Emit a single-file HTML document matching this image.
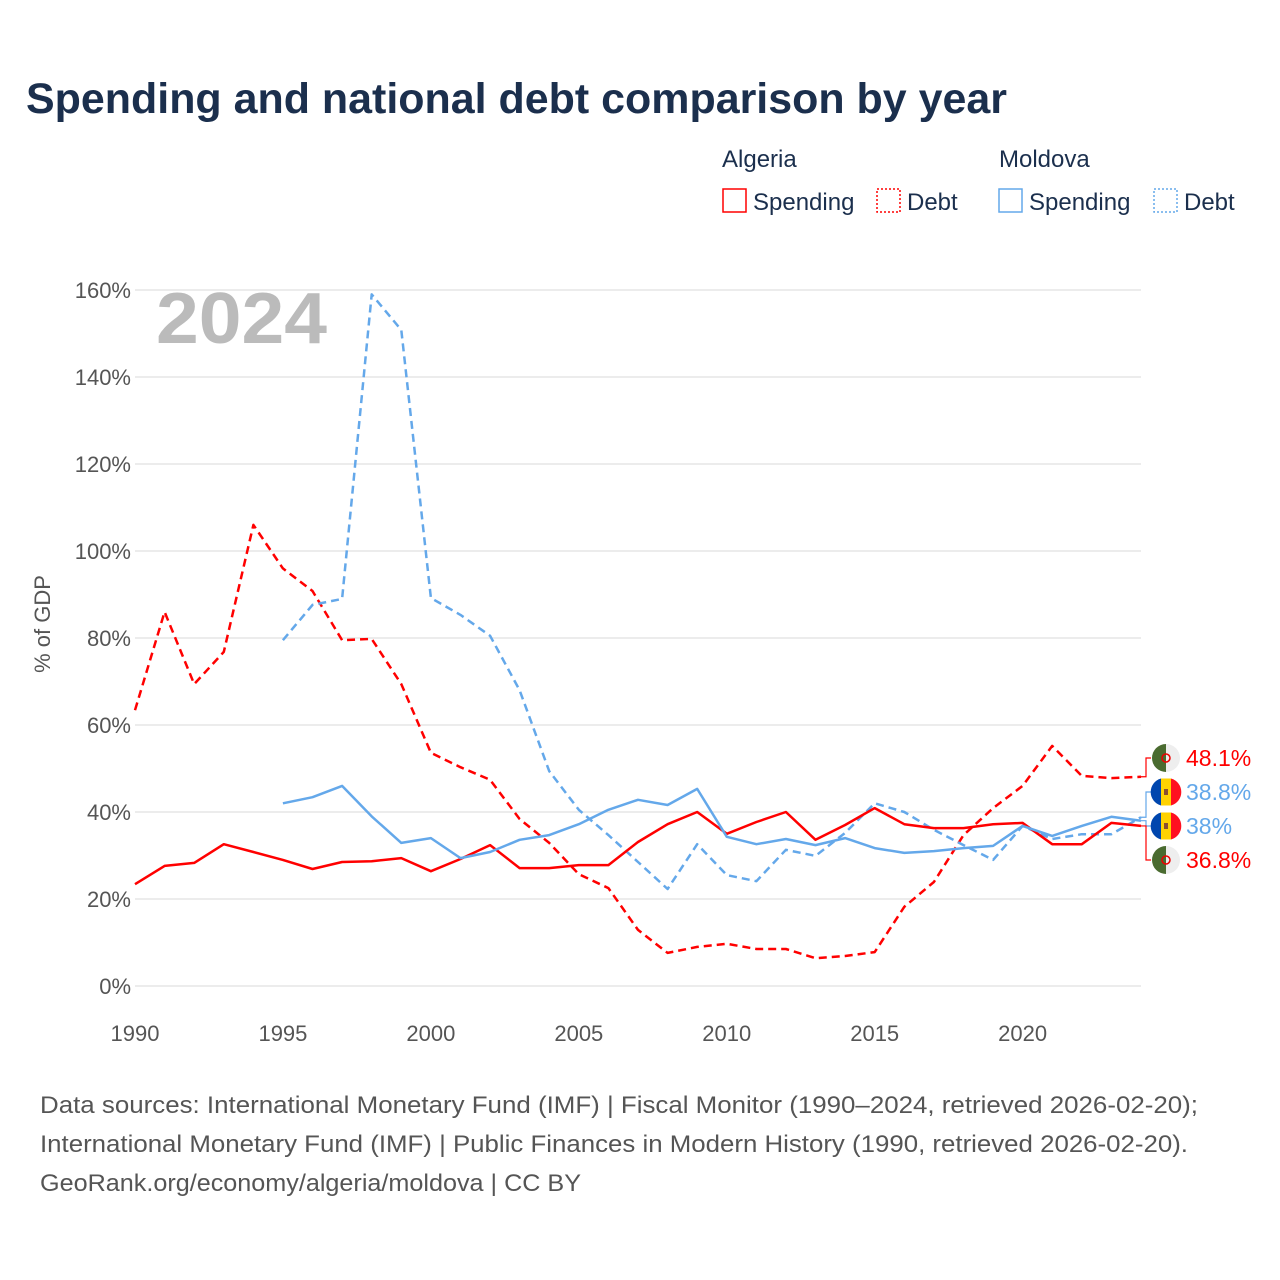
<!DOCTYPE html>
<html><head><meta charset="utf-8"><style>
html,body{margin:0;padding:0;background:#fff;}
svg{display:block;font-family:"Liberation Sans",sans-serif;}
</style></head><body>
<svg id="chart" width="1280" height="1280" viewBox="0 0 1280 1280">
<text x="26" y="113" font-size="43" font-weight="bold" fill="#1b2f4d" textLength="981" lengthAdjust="spacingAndGlyphs">Spending and national debt comparison by year</text>
<g>
<text x="722" y="167" font-size="24" fill="#1b2f4d">Algeria</text>
<text x="999" y="167" font-size="24" fill="#1b2f4d">Moldova</text>
<g><rect x="723" y="189" width="23" height="23" fill="none" stroke="#ff0000" stroke-width="1.5"/><text x="753" y="210" font-size="24" fill="#1b2f4d">Spending</text></g>
<g><rect x="877" y="189" width="23" height="23" fill="none" stroke="#ff0000" stroke-width="1.5" stroke-dasharray="2,2"/><text x="907" y="210" font-size="24" fill="#1b2f4d">Debt</text></g>
<g><rect x="999" y="189" width="23" height="23" fill="none" stroke="#64a8ea" stroke-width="1.5"/><text x="1029" y="210" font-size="24" fill="#1b2f4d">Spending</text></g>
<g><rect x="1154" y="189" width="23" height="23" fill="none" stroke="#64a8ea" stroke-width="1.5" stroke-dasharray="2,2"/><text x="1184" y="210" font-size="24" fill="#1b2f4d">Debt</text></g>
</g>
<text x="156" y="343" font-size="72" font-weight="bold" fill="#bbbbbb" textLength="171" lengthAdjust="spacingAndGlyphs">2024</text>
<g id="grid"></g>
<g id="series"></g>
<g id="labels"></g>
<text transform="translate(50,624) rotate(-90)" text-anchor="middle" font-size="22" fill="#555">% of GDP</text>
<g font-size="24" fill="#555">
<text x="40" y="1113" textLength="1158" lengthAdjust="spacingAndGlyphs">Data sources: International Monetary Fund (IMF) | Fiscal Monitor (1990–2024, retrieved 2026-02-20);</text>
<text x="40" y="1152" textLength="1148" lengthAdjust="spacingAndGlyphs">International Monetary Fund (IMF) | Public Finances in Modern History (1990, retrieved 2026-02-20).</text>
<text x="40" y="1191" textLength="541" lengthAdjust="spacingAndGlyphs">GeoRank.org/economy/algeria/moldova | CC BY</text>
</g>
</svg>
<script>
const years = [];
for (let y = 1990; y <= 2024; y++) years.push(y);
const yTicks = [0,20,40,60,80,100,120,140,160];
const xTicks = [1990,1995,2000,2005,2010,2015,2020];
const algeriaSpending = [23.4,27.6,28.3,32.6,30.8,29,26.9,28.5,28.7,29.4,26.4,29.2,32.4,27.1,27.1,27.8,27.8,33.1,37.2,40,35,37.7,40,33.6,37,40.9,37.2,36.3,36.3,37.2,37.5,32.6,32.6,37.5,36.8];
const algeriaDebt = [63.4,86,69.4,76.8,106,96,90.8,79.5,79.8,69.4,53.6,50.3,47.4,38.4,32.9,25.7,22.5,12.9,7.6,9,9.7,8.5,8.5,6.4,6.9,7.8,18.2,23.9,34.7,40.9,46,55.2,48.3,47.8,48.1];
const moldovaSpending = [null,null,null,null,null,42,43.4,46,39,32.9,34,29.4,30.8,33.6,34.7,37.2,40.5,42.8,41.6,45.3,34.3,32.6,33.8,32.4,34,31.7,30.6,31,31.7,32.2,36.8,34.5,36.8,38.9,38];
const moldovaDebt = [null,null,null,null,null,79.5,87.6,89,159,150.8,89.2,85.3,80.5,68,49.4,40.5,34.7,28.5,22.3,32.6,25.5,24.1,31.3,29.9,35.2,42,40,35.9,32.4,29,36.8,33.8,34.9,34.9,38.8];
const NS = "http://www.w3.org/2000/svg";
const X = yr => 135 + (yr - 1990) * (1141 - 135) / 34;
const Y = v => 986 - v * (986 - 290) / 160;
const grid = document.getElementById('grid');
function mk(tag, attrs, parent){const e=document.createElementNS(NS,tag);for(const k in attrs)e.setAttribute(k,attrs[k]);parent.appendChild(e);return e;}
yTicks.forEach(t=>{
  const l=mk('line',{x1:135,x2:1141,y1:Y(t),y2:Y(t),stroke:'#e6e6e6','stroke-width':1.5},grid);
  
  
  const tx=mk('text',{x:131,y:Y(t)+8,'text-anchor':'end','font-size':22,fill:'#555'},grid);
  tx.textContent=t+'%';
  
  
});
xTicks.forEach(t=>{
  const tx=mk('text',{x:X(t),y:1041,'text-anchor':'middle','font-size':22,fill:'#555'},grid);
  tx.textContent=t;
  
  
});
const series = document.getElementById('series');
function draw(vals,color,dash,name){
  let d='';let pen=false;
  vals.forEach((v,i)=>{if(v==null){pen=false;return;}d+=(pen?'L':'M')+X(years[i]).toFixed(1)+','+Y(v).toFixed(1);pen=true;});
  const p=mk('path',{d:d,fill:'none',stroke:color,'stroke-width':2.5,'stroke-dasharray':dash||'none','stroke-linejoin':'round'},series);
  
  
}
draw(algeriaDebt,'#ff0000','8,5','line-algeria-debt');
draw(moldovaDebt,'#64a8ea','8,5','line-moldova-debt');
draw(algeriaSpending,'#ff0000',null,'line-algeria-spending');
draw(moldovaSpending,'#64a8ea',null,'line-moldova-spending');
const labels=document.getElementById('labels');
const endLabels=[
  {v:algeriaDebt[34],ly:758,c:'#ff0000',flag:'dz',name:'end-label-algeria-debt'},
  {v:moldovaDebt[34],ly:792,c:'#64a8ea',flag:'md',name:'end-label-moldova-debt'},
  {v:moldovaSpending[34],ly:826,c:'#64a8ea',flag:'md',name:'end-label-moldova-spending'},
  {v:algeriaSpending[34],ly:860,c:'#ff0000',flag:'dz',name:'end-label-algeria-spending'}
];
endLabels.forEach(e=>{
  const g=mk('g',{},labels);
  
  
  const yv=Y(e.v);
  mk('path',{d:`M1141,${yv}H1146V${e.ly}H1151`,fill:'none',stroke:e.c,'stroke-width':1.2},g);
  const cx=1166,cy=e.ly,r=14;
  if(e.flag==='dz'){
    mk('path',{d:`M${cx},${cy-r}A${r},${r} 0 0 0 ${cx},${cy+r}Z`,fill:'#4a6b30'},g);
    mk('path',{d:`M${cx},${cy-r}A${r},${r} 0 0 1 ${cx},${cy+r}Z`,fill:'#eeeeee'},g);
    mk('circle',{cx:cx,cy:cy,r:4,fill:'none',stroke:'#e00','stroke-width':1.5},g);
  } else {
    mk('path',{d:`M${cx-5},${cy-r+0.5}A${r},${r} 0 0 0 ${cx-5},${cy+r-0.5}Z`,fill:'#0046ae'},g);
    mk('rect',{x:cx-5,y:cy-r+0.5,width:10,height:2*r-1,fill:'#ffd200'},g);
    mk('path',{d:`M${cx+5},${cy-r+0.5}A${r},${r} 0 0 1 ${cx+5},${cy+r-0.5}Z`,fill:'#ff1020'},g);
    mk('rect',{x:cx-2,y:cy-3,width:4,height:6,fill:'#8a5030'},g);
  }
  const t=mk('text',{x:1186,y:e.ly+8,'font-size':23,fill:e.c},g);
  t.textContent=(Math.round(e.v*10)/10)+'%';
});
</script>
</body></html>
